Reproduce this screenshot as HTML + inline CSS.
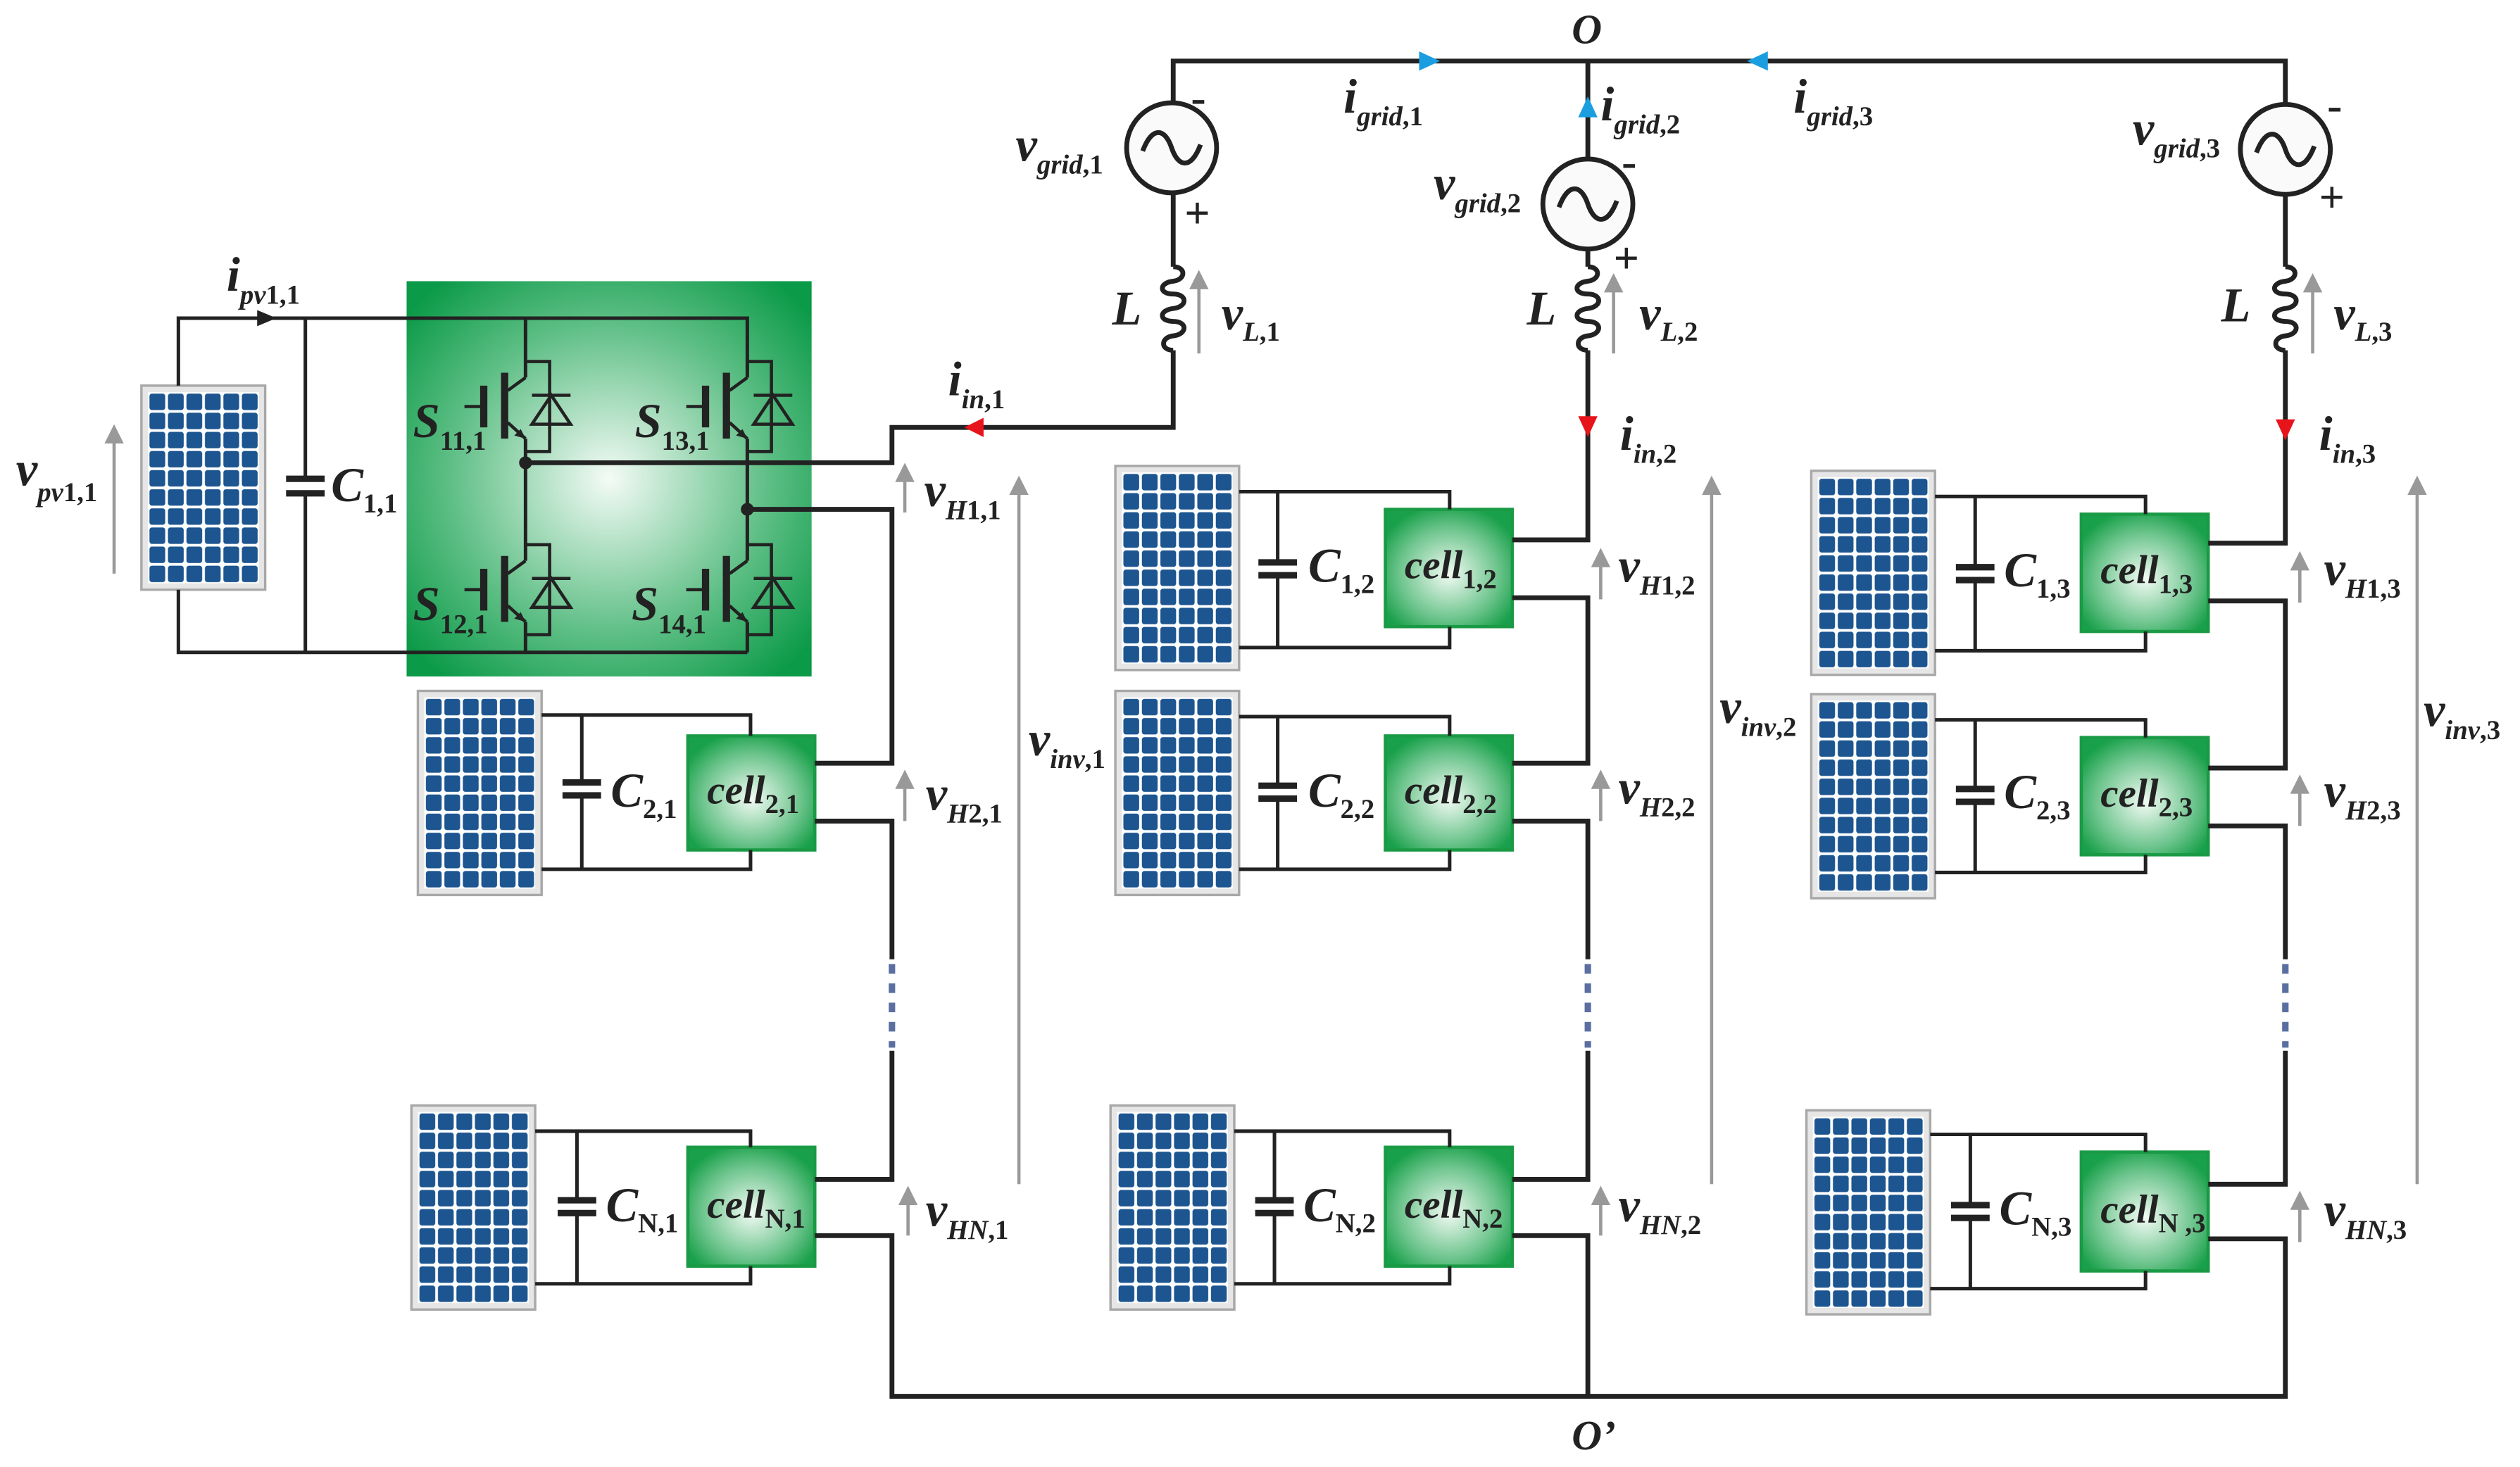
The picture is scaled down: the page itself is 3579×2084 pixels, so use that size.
<!DOCTYPE html>
<html><head><meta charset="utf-8"><style>
html,body{margin:0;padding:0;background:#fff;}
svg{display:block;}
text{font-family:"Liberation Serif",serif;font-weight:bold;font-style:italic;fill:#222;}
.s{font-style:normal;font-size:17px;}
.si{font-style:italic;font-size:17px;}
</style></head><body>
<svg width="3579" height="2084" viewBox="0 0 1568 913" preserveAspectRatio="none" xmlns="http://www.w3.org/2000/svg">
<defs>
<radialGradient id="gb" cx="0.5" cy="0.5" r="0.65">
<stop offset="0" stop-color="#f4fbf6"/><stop offset="0.6" stop-color="#5fbf86"/><stop offset="1" stop-color="#0b9a48"/></radialGradient>
<radialGradient id="gc" cx="0.5" cy="0.55" r="0.6">
<stop offset="0" stop-color="#f2fbf4"/><stop offset="0.65" stop-color="#6cc48c"/><stop offset="1" stop-color="#19a04a"/></radialGradient>
<pattern id="cells" x="4" y="4" width="11.5" height="11.9" patternUnits="userSpaceOnUse">
<rect width="11.5" height="11.9" fill="#fff"/><rect x="1" y="1" width="9.8" height="10.2" rx="1.5" fill="#1c5590"/></pattern>
<g id="pv">
<rect x="0" y="0" width="77" height="127" fill="#e6e6e6" stroke="#a8a8a8" stroke-width="1.5"/>
<rect x="4" y="4" width="69" height="119" fill="url(#cells)"/>
</g>
<g id="sw" stroke="#222" fill="none">
<path d="M0,-18 L-11,-10 M-11,10 L0,20" stroke-width="2"/>
<path d="M-13,-21 V20" stroke-width="4.5"/>
<path d="M-26,-13 V13" stroke-width="4.5"/>
<path d="M-38,0 H-26" stroke-width="2"/>
<polygon points="0,20 -7,18 -3,14" fill="#222" stroke="none"/>
<path d="M0,-28 H15 V28 H0 M4,-7 H28 M4,11 H28 L16,-7 Z" stroke-width="2"/>
</g>
<g id="ac">
<circle r="28" fill="#fafafa" stroke="#222" stroke-width="3"/>
<path d="M-18,2 C-12,-14 -4,-12 0,0 C4,12 12,14 18,-2" fill="none" stroke="#222" stroke-width="3"/>
</g>
<path id="coil" d="M0,0 c8,0 8,8 0,9 c-9,1 -9,8 0,8 c9,0 9,8 0,9 c-9,1 -9,8 0,8 c9,0 9,8 0,9 c-8,1 -8,9 0,9" fill="none" stroke="#222" stroke-width="3"/>
</defs>

<rect x="253" y="175" width="252" height="246" fill="url(#gb)"/>
<rect x="428" y="458" width="79" height="71" fill="url(#gc)" stroke="#1a9a45" stroke-width="2"/>
<rect x="428" y="714" width="79" height="74" fill="url(#gc)" stroke="#1a9a45" stroke-width="2"/>
<rect x="862" y="317" width="79" height="73" fill="url(#gc)" stroke="#1a9a45" stroke-width="2"/>
<rect x="862" y="458" width="79" height="71" fill="url(#gc)" stroke="#1a9a45" stroke-width="2"/>
<rect x="862" y="714" width="79" height="74" fill="url(#gc)" stroke="#1a9a45" stroke-width="2"/>
<rect x="1295" y="320" width="79" height="73" fill="url(#gc)" stroke="#1a9a45" stroke-width="2"/>
<rect x="1295" y="459" width="79" height="73" fill="url(#gc)" stroke="#1a9a45" stroke-width="2"/>
<rect x="1295" y="717" width="79" height="74" fill="url(#gc)" stroke="#1a9a45" stroke-width="2"/>

<use href="#pv" x="88" y="240"/>
<use href="#pv" x="260" y="430"/>
<use href="#pv" x="256" y="688"/>
<use href="#pv" x="694" y="290"/>
<use href="#pv" x="694" y="430"/>
<use href="#pv" x="691" y="688"/>
<use href="#pv" x="1127" y="293"/>
<use href="#pv" x="1127" y="432"/>
<use href="#pv" x="1124" y="691"/>

<g stroke="#222" stroke-width="2.2" fill="none">
<path d="M111,240 V198 H465 V235 M327,198 V235 M327,273 V349 M327,387 V406 M465,273 V349 M465,387 V406 M111,367 V406 H465 M190,198 V298 M190,307 V406"/>
<path d="M337,445 H467 V458 M337,541 H467 V529 M362,445 V487 M362,495 V541"/>
<path d="M333,704 H467 V714 M333,799 H467 V788 M359,704 V747 M359,755 V799"/>
<path d="M771,306 H902 V317 M771,403 H902 V390 M795,306 V350 M795,358 V403"/>
<path d="M771,446 H902 V458 M771,541 H902 V529 M795,446 V489 M795,497 V541"/>
<path d="M768,704 H902 V714 M768,799 H902 V788 M793,704 V747 M793,755 V799"/>
<path d="M1204,309 H1335 V320 M1204,405 H1335 V393 M1229,309 V353 M1229,361 V405"/>
<path d="M1204,448 H1335 V459 M1204,543 H1335 V532 M1229,448 V491 M1229,499 V543"/>
<path d="M1201,706 H1335 V717 M1201,802 H1335 V791 M1226,706 V750 M1226,758 V802"/>
</g>
<g stroke="#222" stroke-width="4">
<path d="M178,298 H202 M178,307 H202"/>
<path d="M350,487 H374 M350,495 H374"/>
<path d="M347,747 H371 M347,755 H371"/>
<path d="M783,350 H807 M783,358 H807"/>
<path d="M783,489 H807 M783,497 H807"/>
<path d="M781,747 H805 M781,755 H805"/>
<path d="M1217,353 H1241 M1217,361 H1241"/>
<path d="M1217,491 H1241 M1217,499 H1241"/>
<path d="M1214,750 H1238 M1214,758 H1238"/>
</g>
<use href="#sw" x="327" y="253"/>
<use href="#sw" x="465" y="253"/>
<use href="#sw" x="327" y="367"/>
<use href="#sw" x="465" y="367"/>
<circle cx="327" cy="288" r="4" fill="#222"/>
<circle cx="465" cy="317" r="4" fill="#222"/>

<g stroke="#222" stroke-width="3" fill="none">
<path d="M327,288 H555 V266 H730 V218 M730,166 V120 M730,64 V38 H1422 V65 M1422,121 V166 M1422,218 V338 H1374 M1374,374 H1422 V478 H1374 M1374,514 H1422 V597 M1422,654 V737 H1374 M1374,771 H1422 V869 H555 V769 H507 M507,734 H555 V654 M555,597 V511 H507 M507,475 H555 V317 H465"/>
<path d="M988,38 V99 M988,155 V166 M988,218 V336 H941 M941,372 H988 V475 H941 M941,511 H988 V597 M988,654 V734 H941 M941,769 H988 V869"/>
</g>
<use href="#coil" x="730" y="166"/>
<use href="#coil" x="988" y="166"/>
<use href="#coil" x="1422" y="166"/>
<use href="#ac" x="729" y="92"/>
<use href="#ac" x="988" y="127"/>
<use href="#ac" x="1422" y="93"/>

<g stroke="#5a6fa0" stroke-width="4" stroke-dasharray="6,6">
<path d="M555,600 V652 M988,600 V652 M1422,600 V652"/>
</g>

<polygon points="160,193 172,198 160,203" fill="#222"/>
<polygon points="612,260 600,266 612,272" fill="#e8141c"/>
<polygon points="982,259 988,272 994,259" fill="#e8141c"/>
<polygon points="1416,261 1422,274 1428,261" fill="#e8141c"/>
<polygon points="883,32 896,38 883,44" fill="#1a9ee0"/>
<polygon points="1100,32 1087,38 1100,44" fill="#1a9ee0"/>
<polygon points="982,73 988,60 994,73" fill="#1a9ee0"/>

<g stroke="#999" stroke-width="2">
<path d="M71,357 V274 M746,220 V178 M1004,220 V180 M1439,220 V180 M563,319 V298 M563,511 V489 M565,769 V748 M996,373 V351 M996,511 V489 M996,769 V748 M1431,375 V353 M1431,514 V492 M1431,773 V751 M634,737 V306 M1065,737 V306 M1504,737 V306"/>
</g>
<g fill="#999">
<polygon points="65,276 71,264 77,276"/><polygon points="740,180 746,168 752,180"/><polygon points="998,182 1004,170 1010,182"/><polygon points="1433,182 1439,170 1445,182"/>
<polygon points="557,300 563,288 569,300"/><polygon points="557,491 563,479 569,491"/><polygon points="559,750 565,738 571,750"/>
<polygon points="990,353 996,341 1002,353"/><polygon points="990,491 996,479 1002,491"/><polygon points="990,750 996,738 1002,750"/>
<polygon points="1425,355 1431,343 1437,355"/><polygon points="1425,494 1431,482 1437,494"/><polygon points="1425,753 1431,741 1437,753"/>
<polygon points="628,308 634,296 640,308"/><polygon points="1059,308 1065,296 1071,308"/><polygon points="1498,308 1504,296 1510,308"/>
</g>

<g font-size="30">
<text x="10" y="302">v<tspan class="si" dy="10">pv</tspan><tspan class="s">1,1</tspan></text>
<text x="141" y="181">i<tspan class="si" dy="8">pv</tspan><tspan class="s">1,1</tspan></text>
<text x="206" y="312">C<tspan class="s" dy="7">1,1</tspan></text>
<text x="257" y="272">S<tspan class="s" dy="8">11,1</tspan></text>
<text x="395" y="272">S<tspan class="s" dy="8">13,1</tspan></text>
<text x="257" y="386">S<tspan class="s" dy="8">12,1</tspan></text>
<text x="393" y="386">S<tspan class="s" dy="8">14,1</tspan></text>
<text x="632" y="100">v<tspan class="si" dy="8">grid</tspan><tspan class="s">,1</tspan></text>
<text x="692" y="202">L</text>
<text x="760" y="205">v<tspan class="si" dy="7">L</tspan><tspan class="s">,1</tspan></text>
<text x="590" y="246">i<tspan class="si" dy="8">in</tspan><tspan class="s">,1</tspan></text>
<text x="575" y="315">v<tspan class="si" dy="8">H</tspan><tspan class="s">1,1</tspan></text>
<text x="640" y="470">v<tspan class="si" dy="8">inv</tspan><tspan class="s">,1</tspan></text>
<text x="576" y="504">v<tspan class="si" dy="8">H</tspan><tspan class="s">2,1</tspan></text>
<text x="576" y="763">v<tspan class="si" dy="8">HN</tspan><tspan class="s">,1</tspan></text>
<text x="380" y="502">C<tspan class="s" dy="7">2,1</tspan></text>
<text x="377" y="760">C<tspan class="s" dy="7">N,1</tspan></text>

<text x="978" y="27" font-size="26">O</text>
<text x="978" y="902" font-size="26">O’</text>
<text x="836" y="70">i<tspan class="si" dy="8">grid</tspan><tspan class="s">,1</tspan></text>
<text x="996" y="75">i<tspan class="si" dy="8">grid</tspan><tspan class="s">,2</tspan></text>
<text x="1116" y="70">i<tspan class="si" dy="8">grid</tspan><tspan class="s">,3</tspan></text>
<text x="892" y="124">v<tspan class="si" dy="8">grid</tspan><tspan class="s">,2</tspan></text>
<text x="1327" y="90">v<tspan class="si" dy="8">grid</tspan><tspan class="s">,3</tspan></text>
<text x="950" y="202">L</text>
<text x="1020" y="205">v<tspan class="si" dy="7">L</tspan><tspan class="s">,2</tspan></text>
<text x="1382" y="200">L</text>
<text x="1452" y="205">v<tspan class="si" dy="7">L</tspan><tspan class="s">,3</tspan></text>
<text x="1008" y="280">i<tspan class="si" dy="8">in</tspan><tspan class="s">,2</tspan></text>
<text x="1443" y="280">i<tspan class="si" dy="8">in</tspan><tspan class="s">,3</tspan></text>
<text x="1007" y="362">v<tspan class="si" dy="8">H</tspan><tspan class="s">1,2</tspan></text>
<text x="1007" y="500">v<tspan class="si" dy="8">H</tspan><tspan class="s">2,2</tspan></text>
<text x="1007" y="760">v<tspan class="si" dy="8">HN</tspan><tspan class="s">,2</tspan></text>
<text x="1070" y="450">v<tspan class="si" dy="8">inv</tspan><tspan class="s">,2</tspan></text>
<text x="1508" y="452">v<tspan class="si" dy="8">inv</tspan><tspan class="s">,3</tspan></text>
<text x="1446" y="364">v<tspan class="si" dy="8">H</tspan><tspan class="s">1,3</tspan></text>
<text x="1446" y="502">v<tspan class="si" dy="8">H</tspan><tspan class="s">2,3</tspan></text>
<text x="1446" y="763">v<tspan class="si" dy="8">HN</tspan><tspan class="s">,3</tspan></text>
<text x="814" y="362">C<tspan class="s" dy="7">1,2</tspan></text>
<text x="814" y="502">C<tspan class="s" dy="7">2,2</tspan></text>
<text x="811" y="760">C<tspan class="s" dy="7">N,2</tspan></text>
<text x="1247" y="365">C<tspan class="s" dy="7">1,3</tspan></text>
<text x="1247" y="503">C<tspan class="s" dy="7">2,3</tspan></text>
<text x="1244" y="762">C<tspan class="s" dy="7">N,3</tspan></text>
</g>
<g font-size="25">
<text x="440" y="500">cell<tspan class="s" font-size="15" dy="6">2,1</tspan></text>
<text x="440" y="758">cell<tspan class="s" font-size="15" dy="6">N,1</tspan></text>
<text x="874" y="360">cell<tspan class="s" font-size="15" dy="6">1,2</tspan></text>
<text x="874" y="500">cell<tspan class="s" font-size="15" dy="6">2,2</tspan></text>
<text x="874" y="758">cell<tspan class="s" font-size="15" dy="6">N,2</tspan></text>
<text x="1307" y="363">cell<tspan class="s" font-size="15" dy="6">1,3</tspan></text>
<text x="1307" y="502">cell<tspan class="s" font-size="15" dy="6">2,3</tspan></text>
<text x="1307" y="761">cell<tspan class="s" font-size="15" dy="6">N ,3</tspan></text>
</g>
<g font-size="28">
<text x="741" y="70" style="font-style:normal">-</text>
<text x="737" y="142" style="font-style:normal">+</text>
<text x="1009" y="110" style="font-style:normal">-</text>
<text x="1004" y="170" style="font-style:normal">+</text>
<text x="1448" y="75" style="font-style:normal">-</text>
<text x="1443" y="132" style="font-style:normal">+</text>
</g>
</svg>
</body></html>
